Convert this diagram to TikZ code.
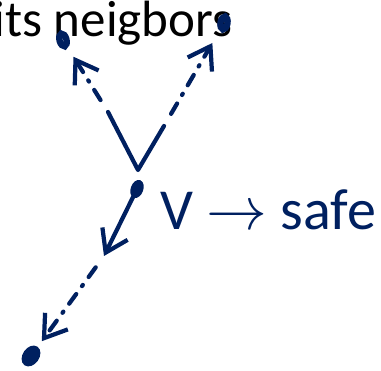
\documentclass[tikz,border=0pt]{standalone}
\usepackage{fontspec}
\setmainfont{Carlito}
\usepackage{tikz}
\usetikzlibrary{positioning}
\usetikzlibrary{calc}
\usetikzlibrary{arrows.meta}
\usetikzlibrary{shapes.geometric}
\definecolor{ink}{RGB}{0,32,96}

\begin{document}
\begin{tikzpicture}[x=0.01cm, y=-0.01cm,
    hand/.style={draw=ink, line width=1.2pt, line cap=round, line join=round},
    dashdot/.style={dash pattern=on 3.4pt off 2.8pt on 0.4pt off 2.8pt},
    tip/.style={-{Straight Barb[length=6pt,width=8pt,line width=1.2pt]}},
    inkdot/.style={draw=ink, fill=ink, ellipse, line width=1pt, inner sep=0pt, minimum width=0.09cm, minimum height=0.15cm},
    ringdot/.style={draw=ink, ellipse, line width=1.8pt, inner sep=0pt, minimum width=0.07cm, minimum height=0.13cm}]
    \useasboundingbox (0,0) rectangle (381,371);
    \clip (0,0) rectangle (381,371);

    \node[anchor=base west, inner sep=0pt, font=\fontsize{14.5}{17}\selectfont] (title) at (-7,37) {its neigbors};

    \node[inkdot, rotate=-20] (v) at (137,189) {};
    \node[ringdot, rotate=15] (na) at (63,40) {};
    \node[ringdot, rotate=-10] (nb) at (224,23) {};
    \node[inkdot, minimum width=0.13cm, minimum height=0.19cm, rotate=-35] (nc) at (31,356) {};

    \coordinate (apex) at (138,170);
    \coordinate (ta) at (108,112);
    \coordinate (tb) at (164,126);
    \coordinate (mid) at (104,256);

    \draw[hand] (ta) -- (apex) -- (tb);
    \draw[hand, dashdot, tip, shorten <=4pt, shorten >=3pt] (ta) -- (na);
    \draw[hand, dashdot, tip, shorten <=4pt, shorten >=4pt] (tb) -- (nb);
    \draw[hand, tip] (v) -- (mid);
    \draw[hand, dashdot, tip, shorten <=4pt, shorten >=2pt] (mid) -- (nc);

    \node[anchor=west, inner sep=0pt, text=ink, font=\fontsize{16.5}{20}\selectfont] (lbl) at (160,210) {V $\rightarrow$ safe};
\end{tikzpicture}
\end{document}
